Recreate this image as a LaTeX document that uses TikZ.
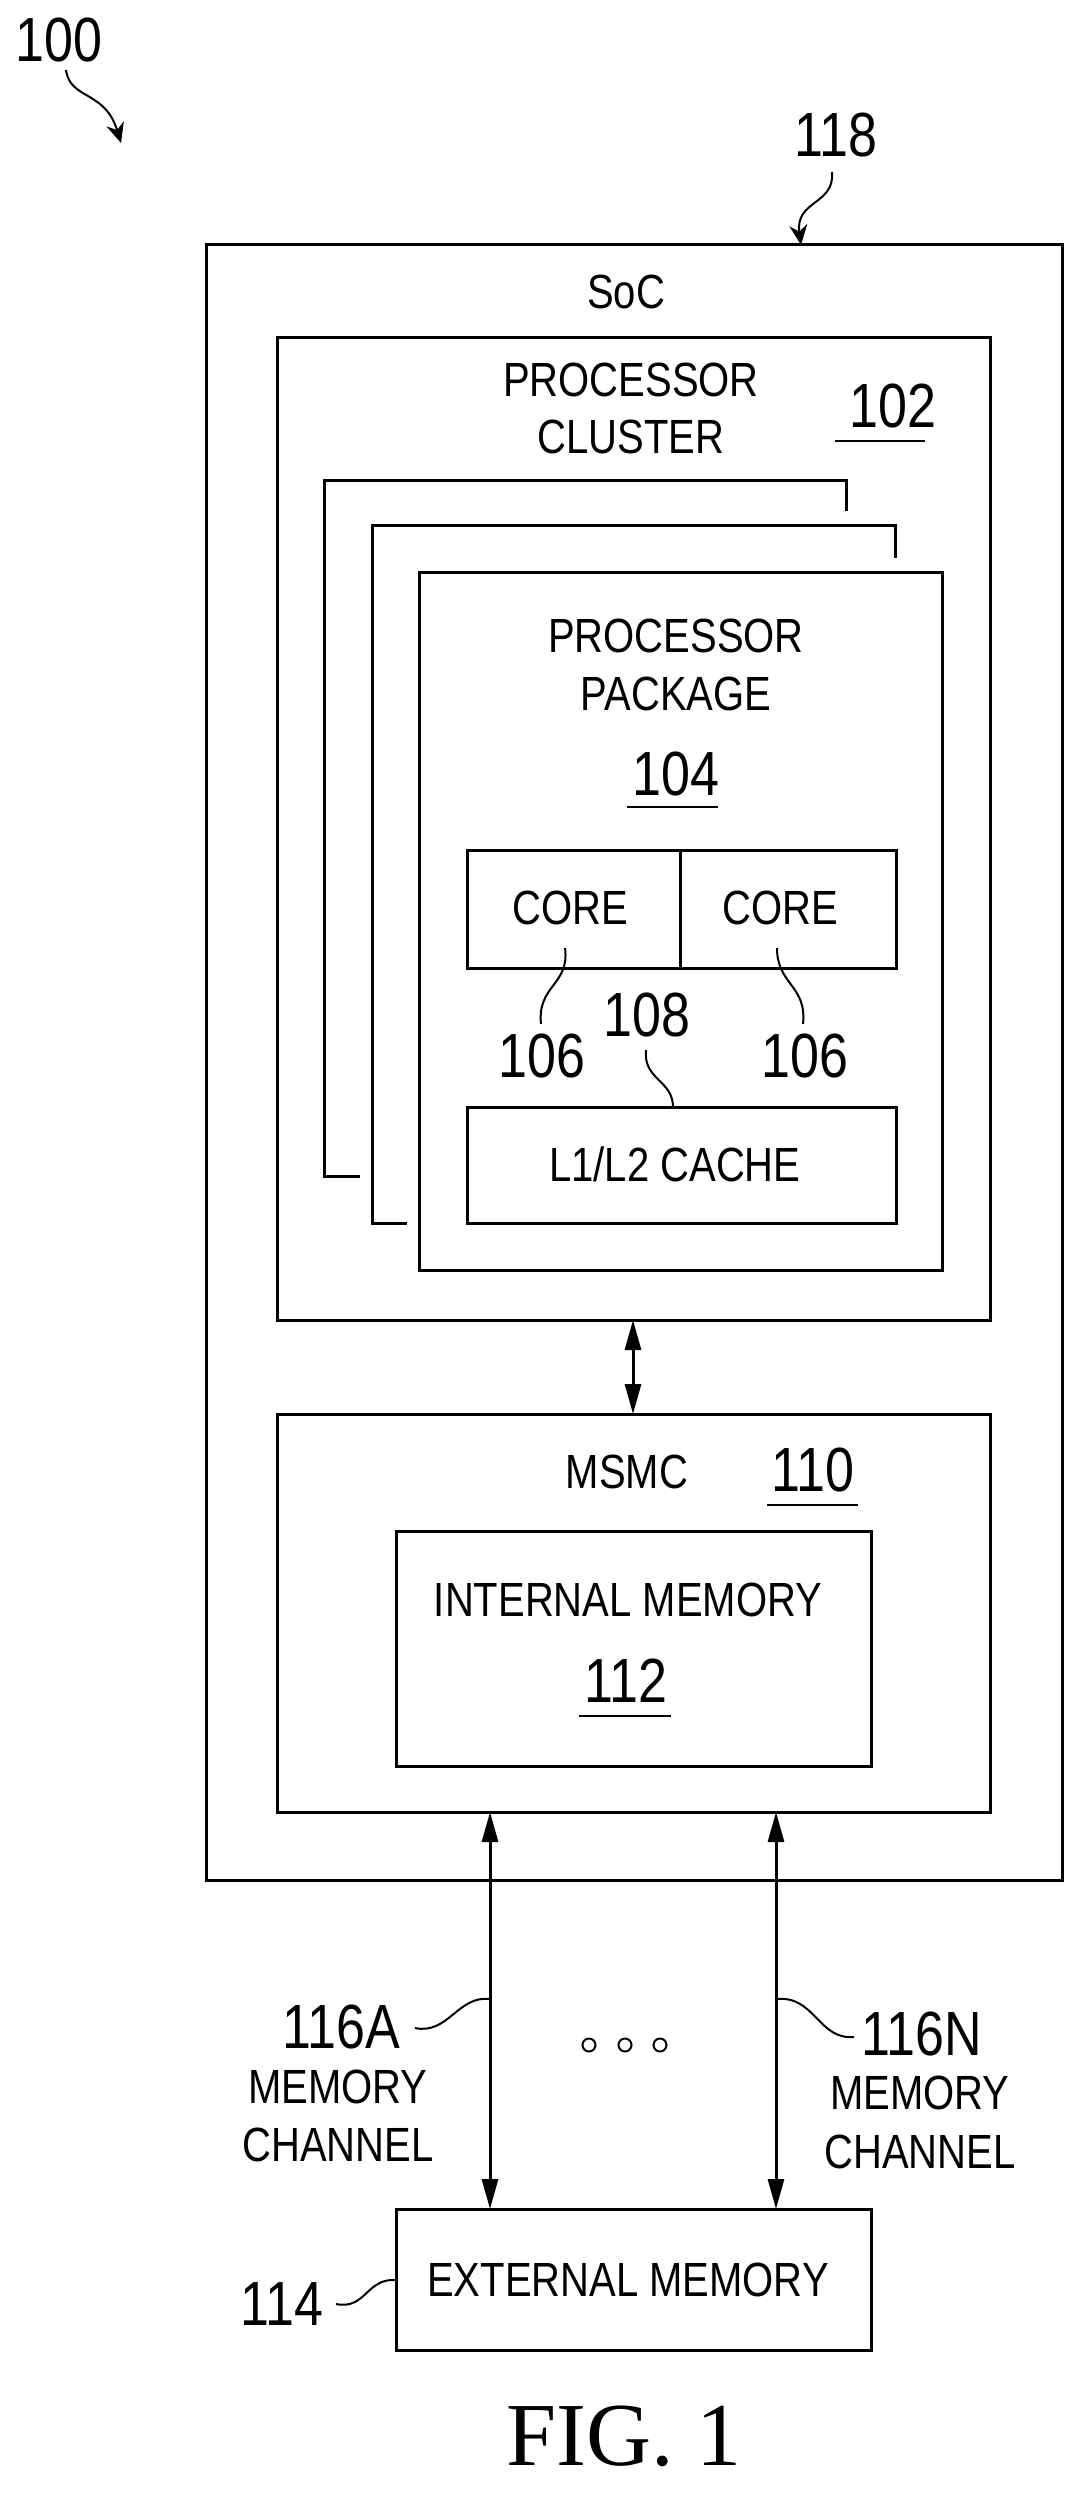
\documentclass[tikz,border=0pt]{standalone}
\usepackage{fontspec}
\setmainfont{Liberation Sans}
\newfontfamily\figfont{Liberation Serif}
\usetikzlibrary{arrows.meta}
\newcommand{\tall}[1]{\scalebox{1}[1.2]{#1}}
\begin{document}
\begin{tikzpicture}[x=1pt,y=-1pt,
  box/.style={draw,line width=3pt},
  lbl/.style={font=\fontsize{40}{44}\selectfont,inner sep=0pt},
  num/.style={font=\fontsize{52}{56}\selectfont,inner sep=0pt},
  lead/.style={line width=2pt},
  arr/.style={line width=3pt,{Triangle[length=30pt,width=16pt]}-{Triangle[length=30pt,width=16pt]}},
  every node/.style={inner sep=0pt}]
\useasboundingbox (0,0) rectangle (1079,2515);
% boxes
\draw[box] (206,245) rectangle (1062,1880);
\coordinate (socTop) at (801,245);
\draw[box] (277,337) rectangle (990,1320);
\coordinate (clBot) at (633,1320);
\draw[box] (360,1176) -- (324,1176) -- (324,480) -- (846,480) -- (846,511);
\draw[box] (407,1223) -- (372,1223) -- (372,525) -- (895,525) -- (895,558);
\draw[box,fill=white] (419,572) rectangle (942,1270);
\draw[box] (467,850) rectangle (896,968);
\draw[box] (680,850) -- (680,968);
\draw[box] (467,1107) rectangle (896,1223);
\draw[box] (277,1414) rectangle (990,1812);
\draw[box] (396,1531) rectangle (871,1766);
\node[draw,line width=3pt,minimum width=475pt,minimum height=141pt] (ext) at (633.5,2279.5) {};
\coordinate (msTop) at (633,1414);
\coordinate (msA) at (490,1812);
\coordinate (msN) at (776,1812);
\coordinate (exA) at (490,2209);
\coordinate (exN) at (776,2209);
% texts
\node[lbl] (soc) at (626,292) {\tall{SoC}};
\node[lbl] (pc1) at (631,380) {\tall{PROCESSOR}};
\node[lbl] (pc2) at (631,437) {\tall{CLUSTER}};
\node[num] (n102) at (893,406) {\tall{102}};
\draw[line width=2pt] (835,441) -- (925,441);
\node[lbl] (pp1) at (676,636) {\tall{PROCESSOR}};
\node[lbl] (pp2) at (676,694) {\tall{PACKAGE}};
\node[num] (n104) at (676,774) {\tall{104}};
\draw[line width=2pt] (627,807) -- (718,807);
\node[lbl] (c1) at (570,908) {\tall{CORE}};
\node[lbl] (c2) at (780,908) {\tall{CORE}};
\node[num] (n106a) at (542,1056) {\tall{106}};
\node[num] (n106b) at (805,1056) {\tall{106}};
\node[num] (n108) at (647,1015) {\tall{108}};
\node[lbl] (cache) at (675,1164) {\tall{L1/L2 CACHE}};
\node[lbl] (msmc) at (627,1472) {\tall{MSMC}};
\node[num] (n110) at (813,1470) {\tall{110}};
\draw[line width=2pt] (767,1505) -- (858,1505);
\node[lbl] (im) at (628,1600) {\tall{INTERNAL MEMORY}};
\node[num] (n112) at (626,1681) {\tall{112}};
\draw[line width=2pt] (579,1716) -- (671,1716);
\node[lbl] (em) at (628,2280) {\tall{EXTERNAL MEMORY}};
\node[num] (n116a) at (341,2027) {\tall{116A}};
\node[lbl] (mca1) at (338,2087) {\tall{MEMORY}};
\node[lbl] (mca2) at (338,2145) {\tall{CHANNEL}};
\node[num] (n116n) at (922,2034) {\tall{116N}};
\node[lbl] (mcn1) at (920,2093) {\tall{MEMORY}};
\node[lbl] (mcn2) at (920,2152) {\tall{CHANNEL}};
\node[num] (n114) at (282,2304) {\tall{114}};
\node[num] (n100) at (59,40) {\tall{100}};
\node[num] (n118) at (836,135) {\tall{118}};
\node[font=\figfont\fontsize{90}{92}\selectfont] (fig) at (624,2436) {FIG. 1};
\foreach \x in {589,625,660} \draw[line width=2pt] (\x,2045) circle (6.5);
% arrows
\draw[arr] (clBot) -- (msTop);
\draw[arr] (msA) -- (exA);
\draw[arr] (msN) -- (exN);
% leaders
\draw[lead] (565,948) .. controls (570,985) and (537,985) .. (541,1024);
\draw[lead] (777,948) .. controls (777,985) and (807,985) .. (803,1024);
\draw[lead] (646,1050) .. controls (643,1080) and (673,1080) .. (673,1107);
\draw[lead] (415,2028) .. controls (448,2035) and (458,1995) .. (490,1999);
\draw[lead] (776,1999) .. controls (815,1995) and (818,2040) .. (854,2037);
\draw[lead] (336,2304) .. controls (366,2310) and (366,2278) .. (396,2280);
\draw[lead,-{Stealth[length=20pt,width=18pt]}] (66,70) .. controls (70,100) and (105,90) .. (121,143);
\draw[lead,-{Stealth[length=20pt,width=18pt]}] (832,172) .. controls (835,205) and (795,200) .. (socTop);
\end{tikzpicture}
\end{document}
